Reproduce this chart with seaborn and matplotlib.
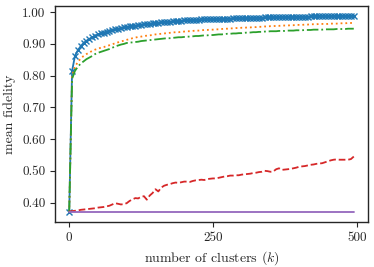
import numpy as np
import pandas as pd
import matplotlib
matplotlib.use("Agg")
import matplotlib.pyplot as plt
import seaborn as sns

# number of clusters k
K = list(range(0, 500, 5))

BLUE = [
    0.370, 0.815, 0.862, 0.880, 0.893, 0.903, 0.910, 0.916, 0.921, 0.926,
    0.930, 0.933, 0.936, 0.939, 0.942, 0.944, 0.946, 0.948, 0.950, 0.952,
    0.954, 0.955, 0.957, 0.958, 0.959, 0.961, 0.962, 0.963, 0.964, 0.965,
    0.966, 0.967, 0.968, 0.969, 0.970, 0.970, 0.971, 0.972, 0.973, 0.973,
    0.974, 0.974, 0.975, 0.975, 0.976, 0.976, 0.977, 0.977, 0.977, 0.978,
    0.978, 0.978, 0.979, 0.979, 0.980, 0.980, 0.980, 0.981, 0.981, 0.981,
    0.981, 0.982, 0.982, 0.982, 0.983, 0.983, 0.983, 0.983, 0.984, 0.984,
    0.984, 0.984, 0.984, 0.985, 0.985, 0.985, 0.985, 0.985, 0.986, 0.986,
    0.986, 0.986, 0.986, 0.986, 0.987, 0.987, 0.987, 0.987, 0.987, 0.987,
    0.987, 0.988, 0.988, 0.988, 0.988, 0.988, 0.988, 0.989, 0.989, 0.989,
]

ORANGE = [
    0.370, 0.800, 0.828, 0.843, 0.854, 0.862, 0.868, 0.873, 0.878, 0.882,
    0.885, 0.888, 0.890, 0.893, 0.896, 0.899, 0.902, 0.905, 0.908, 0.910,
    0.913, 0.915, 0.918, 0.920, 0.922, 0.923, 0.925, 0.926, 0.927, 0.928,
    0.930, 0.931, 0.932, 0.933, 0.934, 0.935, 0.936, 0.937, 0.937, 0.938,
    0.939, 0.940, 0.940, 0.941, 0.942, 0.942, 0.943, 0.944, 0.944, 0.945,
    0.945, 0.946, 0.946, 0.947, 0.948, 0.948, 0.949, 0.949, 0.950, 0.950,
    0.951, 0.951, 0.952, 0.952, 0.953, 0.953, 0.954, 0.954, 0.955, 0.955,
    0.956, 0.956, 0.957, 0.957, 0.958, 0.958, 0.958, 0.959, 0.959, 0.960,
    0.960, 0.960, 0.961, 0.961, 0.962, 0.962, 0.962, 0.963, 0.963, 0.963,
    0.963, 0.964, 0.964, 0.964, 0.965, 0.965, 0.965, 0.966, 0.966, 0.966,
]

GREEN = [
    0.370, 0.790, 0.815, 0.828, 0.838, 0.845, 0.852, 0.857, 0.862, 0.868,
    0.872, 0.875, 0.878, 0.881, 0.884, 0.888, 0.892, 0.895, 0.898, 0.900,
    0.903, 0.904, 0.905, 0.906, 0.907, 0.909, 0.910, 0.911, 0.912, 0.913,
    0.914, 0.915, 0.916, 0.917, 0.918, 0.918, 0.919, 0.920, 0.921, 0.921,
    0.922, 0.923, 0.923, 0.924, 0.925, 0.925, 0.926, 0.927, 0.927, 0.928,
    0.928, 0.929, 0.930, 0.930, 0.931, 0.932, 0.932, 0.933, 0.933, 0.934,
    0.934, 0.935, 0.936, 0.936, 0.937, 0.937, 0.938, 0.938, 0.939, 0.939,
    0.940, 0.940, 0.940, 0.941, 0.941, 0.941, 0.942, 0.942, 0.942, 0.943,
    0.943, 0.943, 0.944, 0.944, 0.944, 0.945, 0.945, 0.945, 0.945, 0.946,
    0.946, 0.946, 0.946, 0.947, 0.947, 0.947, 0.947, 0.948, 0.948, 0.948,
]

RED = [
    0.372, 0.373, 0.374, 0.375, 0.377, 0.378, 0.379, 0.380, 0.381, 0.382,
    0.384, 0.385, 0.386, 0.388, 0.390, 0.394, 0.398, 0.396, 0.394, 0.395,
    0.398, 0.405, 0.410, 0.414, 0.413, 0.418, 0.420, 0.409, 0.422, 0.430,
    0.442, 0.435, 0.447, 0.453, 0.456, 0.458, 0.461, 0.463, 0.462, 0.464,
    0.466, 0.466, 0.465, 0.468, 0.470, 0.471, 0.472, 0.471, 0.474, 0.475,
    0.476, 0.476, 0.478, 0.480, 0.482, 0.483, 0.485, 0.485, 0.486, 0.486,
    0.488, 0.489, 0.490, 0.491, 0.493, 0.494, 0.496, 0.497, 0.500, 0.499,
    0.497, 0.498, 0.505, 0.508, 0.503, 0.504, 0.505, 0.506, 0.508, 0.510,
    0.513, 0.514, 0.515, 0.517, 0.519, 0.520, 0.522, 0.523, 0.524, 0.527,
    0.530, 0.533, 0.535, 0.536, 0.535, 0.535, 0.535, 0.535, 0.537, 0.545,
]

PURPLE = [
    0.370, 0.370, 0.370, 0.370, 0.370, 0.370, 0.370, 0.370, 0.370, 0.370,
    0.370, 0.370, 0.370, 0.370, 0.370, 0.370, 0.370, 0.370, 0.370, 0.370,
    0.370, 0.370, 0.370, 0.370, 0.370, 0.370, 0.370, 0.370, 0.370, 0.370,
    0.370, 0.370, 0.370, 0.370, 0.370, 0.370, 0.370, 0.370, 0.370, 0.370,
    0.370, 0.370, 0.370, 0.370, 0.370, 0.370, 0.370, 0.370, 0.370, 0.370,
    0.370, 0.370, 0.370, 0.370, 0.370, 0.370, 0.370, 0.370, 0.370, 0.370,
    0.370, 0.370, 0.370, 0.370, 0.370, 0.370, 0.370, 0.370, 0.370, 0.370,
    0.370, 0.370, 0.370, 0.370, 0.370, 0.370, 0.370, 0.370, 0.370, 0.370,
    0.370, 0.370, 0.370, 0.370, 0.370, 0.370, 0.370, 0.370, 0.370, 0.370,
    0.370, 0.370, 0.370, 0.370, 0.370, 0.370, 0.370, 0.370, 0.370, 0.370,
]

Y_TICKS = [0.40, 0.50, 0.60, 0.70, 0.80, 0.90, 1.00]
X_TICKS = [0, 250, 500]

sns.set_style("ticks")
plt.rcParams["font.family"] = ["cmr10", "DejaVu Serif"]
plt.rcParams["mathtext.fontset"] = "cm"
plt.rcParams["axes.formatter.use_mathtext"] = True
plt.rcParams["axes.unicode_minus"] = False

tab = sns.color_palette("tab10")

fig = plt.figure(figsize=(3.74, 2.67), dpi=100)
ax = fig.add_axes([0.147, 0.169, 0.837, 0.809])

series = [
    (BLUE, tab[0], "-", "x"),
    (ORANGE, tab[1], ":", None),
    (GREEN, tab[2], "-.", None),
    (RED, tab[3], "--", None),
    (PURPLE, tab[4], "-", None),
]
for vals, col, ls, mk in series:
    kw = dict(color=col, linestyle=ls, linewidth=1.3)
    if mk:
        kw.update(marker=mk, markersize=5, markeredgewidth=1.0,
                  markeredgecolor=col, markerfacecolor=col)
    sns.lineplot(x=K, y=vals, ax=ax, **kw)

ax.set_xticks(X_TICKS)
ax.set_yticks(Y_TICKS)
ax.set_yticklabels([f"{v:.2f}" for v in Y_TICKS])
ax.set_xticklabels([str(v) for v in X_TICKS])
ax.tick_params(labelsize=9.5, length=3.5, width=0.8, colors=".15")
for s in ax.spines.values():
    s.set_linewidth(1.0)
    s.set_color(".15")
ax.set_xlabel("number of clusters ($k$)", fontsize=10)
ax.set_ylabel("mean fidelity", fontsize=10)

fig.savefig("out.png", dpi=100)
